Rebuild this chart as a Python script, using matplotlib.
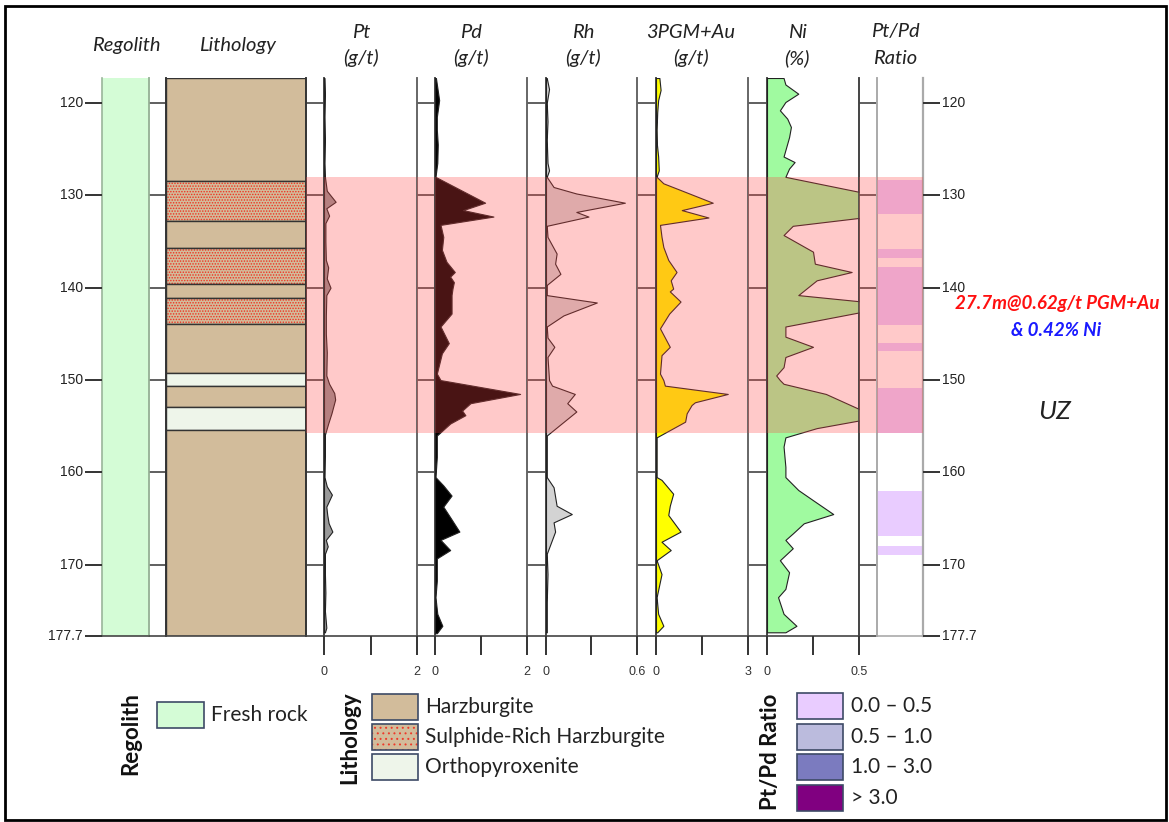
"""Strip log of the drill hole: regolith, lithology, PGE and Ni assays."""

import matplotlib

matplotlib.use("Agg")
import matplotlib.pyplot as plt
from matplotlib.patches import Rectangle


W, H = 1169, 822
TOP_PX, BASE_PX = 78, 636
TRACK_PX = BASE_PX - TOP_PX

TOP_DEPTH = 117.3
BASE_DEPTH = 177.7
DEPTH_TICKS = [120, 130, 140, 150, 160, 170, 177.7]
SPACER_TICKS = [120, 130, 140, 150, 160, 170]
MINERALISED = (128.0, 155.7)

regolith_top = [117.3]
regolith_base = [177.7]
regolith_unit = ["Fresh rock"]

litho_top = [117.3, 128.5, 132.8, 135.7, 139.6, 141.1, 143.9, 149.2, 150.6, 152.9, 155.4]
litho_base = [128.5, 132.8, 135.7, 139.6, 141.1, 143.9, 149.2, 150.6, 152.9, 155.4, 177.7]
litho_unit = [
    "Harzburgite", "Sulphide-Rich Harzburgite", "Harzburgite", "Sulphide-Rich Harzburgite",
    "Harzburgite", "Sulphide-Rich Harzburgite", "Harzburgite", "Orthopyroxenite",
    "Harzburgite", "Orthopyroxenite", "Harzburgite",
]

ratio_top = [128.3, 135.85, 137.8, 146.0, 150.9, 162.0, 168.0]
ratio_base = [132.0, 136.75, 144.05, 146.9, 155.7, 166.9, 168.9]
ratio_class = ["0.0 – 0.5"] * 7

pt_depth = [117.3, 119.0, 121.5, 124.0, 126.5, 128.0, 129.5, 130.7, 131.4, 132.2, 133.0, 135.0,
            137.0, 137.8, 139.0, 140.0, 140.8, 143.0, 145.0, 147.0, 149.5, 150.4, 151.4, 152.1,
            153.6, 154.7, 155.9, 158.0, 160.5, 161.5, 162.4, 163.7, 164.6, 165.5, 166.4, 167.3,
            168.0, 168.8, 171.0, 173.0, 175.0, 176.8, 177.3]
pt_value = [0.01, 0.02, 0.01, 0.02, 0.01, 0.02, 0.06, 0.25, 0.05, 0.11, 0.03, 0.03,
            0.04, 0.09, 0.06, 0.14, 0.05, 0.04, 0.04, 0.06, 0.05, 0.11, 0.22, 0.24,
            0.16, 0.09, 0.02, 0.02, 0.01, 0.06, 0.17, 0.05, 0.07, 0.10, 0.18, 0.04,
            0.08, 0.02, 0.02, 0.03, 0.02, 0.05, 0.02]

pd_depth = [117.3, 119.7, 121.5, 122.9, 124.5, 126.5, 128.0, 130.8, 131.6, 132.3, 133.2, 134.5,
            135.9, 137.2, 138.3, 138.8, 139.4, 140.1, 140.8, 142.8, 144.2, 146.0, 147.1, 149.3,
            150.0, 151.5, 152.5, 153.3, 153.8, 154.7, 156.0, 158.3, 160.5, 161.4, 162.5, 163.7,
            165.0, 166.4, 167.3, 168.4, 169.3, 171.7, 173.5, 175.3, 176.6, 177.4]
pd_value = [0.02, 0.09, 0.04, 0.04, 0.06, 0.05, 0.01, 1.09, 0.61, 1.27, 0.12, 0.18,
            0.15, 0.25, 0.43, 0.33, 0.41, 0.38, 0.36, 0.36, 0.12, 0.30, 0.15, 0.04,
            0.12, 1.85, 0.77, 0.59, 0.66, 0.33, 0.04, 0.04, 0.01, 0.18, 0.36, 0.18,
            0.35, 0.53, 0.12, 0.33, 0.04, 0.04, 0.01, 0.05, 0.16, 0.04]

rh_depth = [117.3, 118.5, 120.0, 122.0, 124.0, 126.5, 127.3, 128.0, 129.1, 129.8, 130.8, 131.8,
            132.3, 133.3, 134.5, 136.3, 137.4, 138.5, 139.7, 140.8, 141.6, 143.0, 144.2, 145.4,
            146.4, 147.5, 150.0, 150.6, 151.5, 152.5, 153.4, 156.0, 160.5, 161.6, 163.6, 164.5,
            165.4, 166.4, 168.8, 171.0, 174.0, 177.3]
rh_value = [0.005, 0.02, 0.005, 0.01, 0.005, 0.01, 0.02, 0.005, 0.05, 0.20, 0.52, 0.20,
            0.28, 0.005, 0.01, 0.07, 0.06, 0.095, 0.005, 0.005, 0.335, 0.115, 0.005, 0.01,
            0.055, 0.01, 0.02, 0.04, 0.19, 0.14, 0.20, 0.005, 0.005, 0.05, 0.07, 0.17,
            0.05, 0.06, 0.005, 0.01, 0.005, 0.005]

pgm_depth = [117.3, 118.6, 119.7, 121.0, 122.9, 124.5, 125.8, 127.3, 128.0, 128.7, 129.4, 130.8,
             131.6, 132.4, 133.2, 134.5, 135.6, 137.0, 138.3, 139.2, 140.1, 140.4, 141.5, 142.8,
             144.4, 146.4, 147.3, 149.3, 150.0, 150.6, 151.5, 152.4, 152.7, 153.6, 154.5, 156.2,
             160.5, 160.8, 162.3, 163.6, 164.6, 166.4, 167.5, 168.4, 169.5, 171.0, 173.5, 175.3,
             176.6, 177.3]
pgm_value = [0.11, 0.15, 0.07, 0.04, 0.02, 0.03, 0.07, 0.09, 0.02, 0.24, 0.78, 1.85,
             0.84, 1.71, 0.13, 0.18, 0.24, 0.40, 0.67, 0.48, 0.56, 0.45, 0.80, 0.43,
             0.13, 0.45, 0.18, 0.13, 0.24, 0.29, 2.34, 1.27, 1.16, 1.00, 0.95, 0.02,
             0.02, 0.18, 0.56, 0.45, 0.40, 0.80, 0.18, 0.48, 0.02, 0.18, 0.02, 0.07,
             0.24, 0.04]

ni_depth = [117.3, 118.0, 119.0, 119.9, 120.8, 121.7, 122.6, 123.7, 125.8, 126.4, 127.1, 128.0,
            129.7, 130.8, 131.8, 132.4, 133.3, 134.3, 136.1, 137.4, 138.3, 139.2, 140.8, 141.5,
            142.6, 144.2, 145.3, 146.4, 147.5, 148.6, 149.5, 150.0, 150.4, 151.5, 153.3, 154.3,
            155.2, 156.2, 157.2, 159.4, 160.5, 161.9, 163.0, 164.5, 165.5, 166.6, 167.3, 168.2,
            169.5, 170.8, 172.6, 173.5, 175.3, 176.6, 177.3]
ni_value = [0.09, 0.10, 0.17, 0.10, 0.07, 0.11, 0.13, 0.12, 0.09, 0.15, 0.12, 0.10,
            0.52, 0.58, 0.56, 0.52, 0.14, 0.09, 0.25, 0.26, 0.46, 0.27, 0.17, 0.52,
            0.52, 0.10, 0.10, 0.25, 0.10, 0.09, 0.05, 0.07, 0.09, 0.32, 0.52, 0.52,
            0.27, 0.10, 0.09, 0.10, 0.10, 0.17, 0.25, 0.36, 0.20, 0.14, 0.10, 0.14,
            0.07, 0.12, 0.10, 0.06, 0.09, 0.16, 0.10]

REGOLITH_COLORS = {"Fresh rock": "#d4fcd6"}
LITHO_COLORS = {
    "Harzburgite": "#d2bc9b",
    "Sulphide-Rich Harzburgite": "#d2bc9b",
    "Orthopyroxenite": "#eef5ea",
}
LITHO_HATCH = {"Harzburgite": None, "Sulphide-Rich Harzburgite": "......", "Orthopyroxenite": None}
RATIO_COLORS = {
    "0.0 – 0.5": "#e9ccff",
    "0.5 – 1.0": "#bbbbdd",
    "1.0 – 3.0": "#7b7bbf",
    "> 3.0": "#800080",
}

TEXT_FONT = ["Lato", "DejaVu Sans"]
NUM_FONT = ["Liberation Sans", "DejaVu Sans"]
LINE = "#444444"
TICK = "#333333"

plt.rcParams["hatch.linewidth"] = 0.7


def fx(x):
    return x / W


def fy(y):
    return 1 - y / H


def add_px_axes(fig, x0, x1):
    ax = fig.add_axes([x0 / W, 1 - BASE_PX / H, (x1 - x0) / W, TRACK_PX / H])
    ax.set_ylim(BASE_DEPTH, TOP_DEPTH)
    ax.set_xticks([])
    ax.set_yticks([])
    ax.spines["top"].set_visible(False)
    ax.spines["bottom"].set_color(LINE)
    ax.spines["bottom"].set_linewidth(1.2)
    for side in ("left", "right"):
        ax.spines[side].set_linewidth(1.2)
    ax.patch.set_alpha(0)
    return ax


def shade_zone(ax):
    ax.axhspan(*MINERALISED, facecolor="#ff4646", alpha=0.29, lw=0, zorder=10)


def depth_axis(fig, ax, x_edge, x_end, ha):
    """Long outward depth ticks with labels, drawn in figure pixels from the column's depth scale."""
    to_fig = ax.transData + fig.transFigure.inverted()
    label_x = x_end - 2 if ha == "right" else x_end + 2
    for depth in DEPTH_TICKS:
        yf = to_fig.transform((0, depth))[1]
        fig.add_artist(plt.Line2D([fx(x_edge), fx(x_end)], [yf, yf], transform=fig.transFigure,
                                  color=TICK, lw=1.4, solid_capstyle="butt"))
        fig.text(fx(label_x), yf, f"{depth:g}", ha=ha, va="center",
                 fontsize=10, family=NUM_FONT, color="#222222")


def spacer(fig, x0, x1, left_color, right_color, zone=True):
    ax = add_px_axes(fig, x0, x1)
    ax.set_xlim(0, 1)
    ax.spines["left"].set_color(left_color)
    ax.spines["right"].set_color(right_color)
    for depth in SPACER_TICKS:
        ax.axhline(depth, color=LINE, lw=1.2)
    if zone:
        shade_zone(ax)
    return ax


def track(fig, x0, x1, xmax, depth, value, fill, label_max):
    ax = add_px_axes(fig, x0, x1)
    ax.set_xlim(0, xmax)
    ax.spines["left"].set_color(LINE)
    ax.spines["right"].set_color("#666666")
    ax.fill_betweenx(depth, 0, value, facecolor=fill, edgecolor="#222222", linewidth=0.8, zorder=3)
    # scale ticks hanging below the log (figure pixels), labelled at both ends
    to_fig = ax.transData + fig.transFigure.inverted()
    for x, label in zip([0, xmax / 2, xmax], ["0", "", label_max]):
        xf = to_fig.transform((x, BASE_DEPTH))[0]
        fig.add_artist(plt.Line2D([xf, xf], [fy(BASE_PX), fy(BASE_PX + 19)], transform=fig.transFigure,
                                  color=TICK, lw=1.4, solid_capstyle="butt"))
        if label:
            fig.text(xf, fy(BASE_PX + 36), label, ha="center", va="center",
                     fontsize=9, family=NUM_FONT, color="#333333")
    shade_zone(ax)
    return ax


def main():
    fig = plt.figure(figsize=(W / 100, H / 100), dpi=100)

    # regolith column with the left depth axis
    ax_reg = add_px_axes(fig, 102, 149)
    ax_reg.set_xlim(0, 1)
    for top, base, unit in zip(regolith_top, regolith_base, regolith_unit):
        ax_reg.axhspan(top, base, facecolor=REGOLITH_COLORS[unit], lw=0)
    ax_reg.spines["left"].set_color("#9ab59a")
    ax_reg.spines["right"].set_color("#9ab59a")
    depth_axis(fig, ax_reg, 102, 85, "right")

    spacer(fig, 149, 166, "#9ab59a", "#333333", zone=False)

    ax_lit = add_px_axes(fig, 166, 306)
    ax_lit.set_xlim(0, 1)
    ax_lit.spines["left"].set_color("#333333")
    ax_lit.spines["right"].set_color("#333333")
    for top, base, unit in zip(litho_top, litho_base, litho_unit):
        hatch = LITHO_HATCH[unit]
        if hatch:
            ax_lit.axhspan(top, base, facecolor=LITHO_COLORS[unit], edgecolor="#f03020", hatch=hatch, lw=0)
        else:
            ax_lit.axhspan(top, base, facecolor=LITHO_COLORS[unit], lw=0)
        ax_lit.axhspan(top, base, fill=False, edgecolor="#333333", lw=1.0)

    spacer(fig, 306, 324, "#333333", LINE)
    track(fig, 324, 417, 2, pt_depth, pt_value, "#999999", "2")
    spacer(fig, 417, 435, "#666666", LINE)
    track(fig, 435, 527, 2, pd_depth, pd_value, "#000000", "2")
    spacer(fig, 527, 546, "#666666", LINE)
    track(fig, 546, 637, 0.6, rh_depth, rh_value, "#d3d3d3", "0.6")
    spacer(fig, 637, 656, "#666666", LINE)
    track(fig, 656, 748, 3, pgm_depth, pgm_value, "#ffff00", "3")
    spacer(fig, 748, 767, "#666666", LINE)
    ax_ni = track(fig, 767, 859, 0.5, ni_depth, ni_value, "#a0faa0", "0.5")
    ax_ni.spines["right"].set_color(LINE)
    spacer(fig, 859, 877, LINE, "#aaaaaa")

    # Pt/Pd ratio column with the right depth axis
    ax_rat = add_px_axes(fig, 877, 923)
    ax_rat.set_xlim(0, 1)
    ax_rat.spines["left"].set_color("#aaaaaa")
    ax_rat.spines["right"].set_color("#aaaaaa")
    ax_rat.spines["right"].set_linewidth(1.6)
    ax_rat.spines["bottom"].set_color("#aaaaaa")
    for top, base, cls in zip(ratio_top, ratio_base, ratio_class):
        ax_rat.axhspan(top, base, facecolor=RATIO_COLORS[cls], lw=0)
    shade_zone(ax_rat)
    depth_axis(fig, ax_rat, 923, 940, "left")

    # column headers
    head = dict(fontsize=14.5, style="italic", family=TEXT_FONT, ha="center", va="center", color="#222222")
    fig.text(fx(126), fy(45), "Regolith", **head)
    fig.text(fx(237), fy(45), "Lithology", **head)
    for x, top, bottom in [(361, "Pt", "(g/t)"), (471, "Pd", "(g/t)"), (583, "Rh", "(g/t)"),
                           (691, "3PGM+Au", "(g/t)"), (797, "Ni", "(%)"), (895, "Pt/Pd", "Ratio")]:
        fig.text(fx(x), fy(32), top, **head)
        fig.text(fx(x), fy(58), bottom, **head)

    # intercept annotation
    fig.text(fx(1057), fy(304), "27.7m@0.62g/t PGM+Au", fontsize=13.5, weight="bold", style="italic",
             family=TEXT_FONT, color="#ff1010", ha="center", va="center")
    fig.text(fx(1056), fy(330), "& 0.42% Ni", fontsize=13.5, weight="bold", style="italic",
             family=TEXT_FONT, color="#1a1aff", ha="center", va="center")
    fig.text(fx(1055), fy(411), "UZ", fontsize=19, style="italic", family=TEXT_FONT,
             color="#222222", ha="center", va="center")

    # legends
    box_edge = "#3d4a66"
    leg = dict(fontsize=15, family=TEXT_FONT, ha="left", va="center", color="#222222")
    title = dict(fontsize=16, weight="bold", family=TEXT_FONT, rotation=90, ha="center", va="center",
                 color="#111111")

    fig.text(fx(131), fy(734), "Regolith", **title)
    for i, unit in enumerate(regolith_unit):
        y0 = 702 + i * 30
        fig.patches.append(Rectangle((fx(157), fy(y0 + 26)), 47 / W, 26 / H, transform=fig.transFigure,
                                     facecolor=REGOLITH_COLORS[unit], edgecolor=box_edge, lw=1.2))
        fig.text(fx(211), fy(y0 + 13), unit, **leg)

    fig.text(fx(350), fy(738), "Lithology", **title)
    for i, unit in enumerate(dict.fromkeys(litho_unit)):
        y0 = 694 + i * 30
        fig.patches.append(Rectangle((fx(372), fy(y0 + 26)), 46 / W, 26 / H, transform=fig.transFigure,
                                     facecolor=LITHO_COLORS[unit], edgecolor="#ee3a2a",
                                     hatch=LITHO_HATCH[unit] and "...", lw=0))
        fig.patches.append(Rectangle((fx(372), fy(y0 + 26)), 46 / W, 26 / H, transform=fig.transFigure,
                                     fill=False, edgecolor=box_edge, lw=1.2))
        fig.text(fx(425), fy(y0 + 13), unit, **leg)

    fig.text(fx(771), fy(752), "Pt/Pd Ratio", **title)
    for i, cls in enumerate(RATIO_COLORS):
        y0 = 693 + i * 30.5
        fig.patches.append(Rectangle((fx(797), fy(y0 + 26)), 46 / W, 26 / H, transform=fig.transFigure,
                                     facecolor=RATIO_COLORS[cls], edgecolor=box_edge, lw=1.2))
        fig.text(fx(851), fy(y0 + 13), cls, **leg)

    # outer frame
    fig.patches.append(Rectangle((fx(5), fy(820)), 1161 / W, 814 / H, transform=fig.transFigure,
                                 fill=False, edgecolor="#000000", lw=2))

    fig.savefig("out.png", dpi=100)


if __name__ == "__main__":
    main()
